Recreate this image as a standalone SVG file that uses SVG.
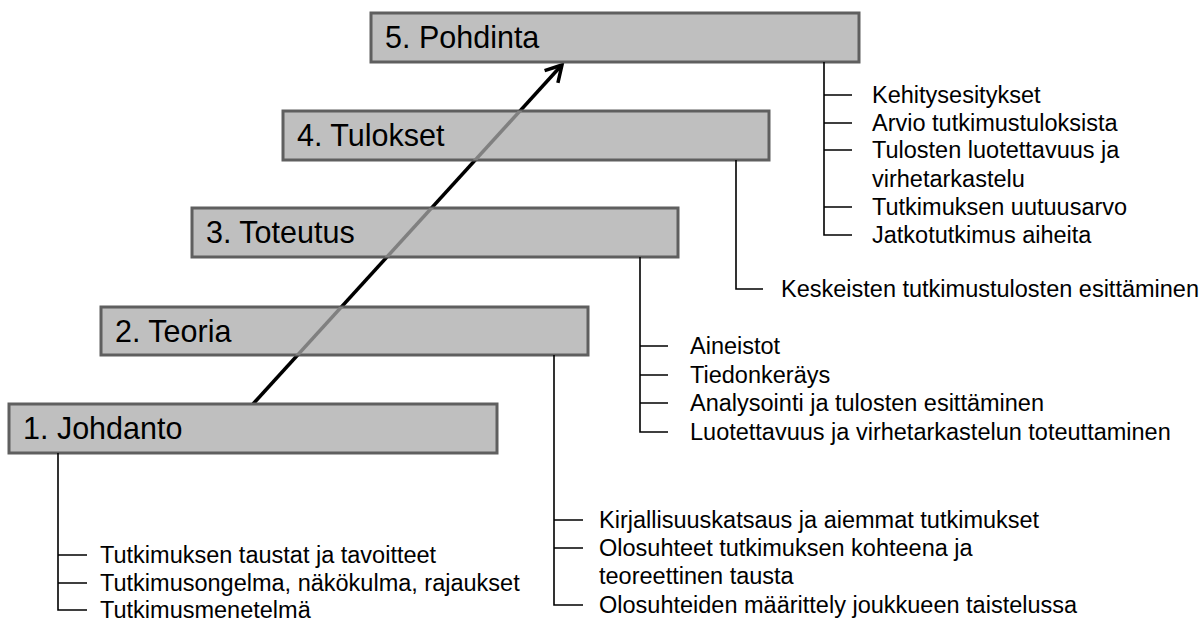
<svg xmlns="http://www.w3.org/2000/svg" width="1201" height="621" viewBox="0 0 1201 621">
<style>
.box{fill:#bfbfbf;stroke:#5f5f5f;stroke-width:3}
.lbl{font-family:"Liberation Sans",Arial,sans-serif;font-size:30.5px;fill:#000}
.t{font-family:"Liberation Sans",Arial,sans-serif;font-size:23.5px;fill:#000}
.tree{fill:none;stroke:#000;stroke-width:1.6}
.arr{fill:none;stroke:#000;stroke-width:3.5}
.arrg{fill:none;stroke:#808080;stroke-width:3.5}
</style>
<defs>
<clipPath id="boxclip">
<rect x="101" y="307" width="487" height="48"/>
<rect x="192" y="208" width="486" height="49"/>
<rect x="283" y="111" width="486" height="49"/>
</clipPath>
</defs>
<g id="connectors">
<path class="arr" d="M253,404 L560,67"/>
<path class="arr" d="M544.6,70.7 L562,65 L557.9,82.9"/>
</g>
<g id="box1"><rect class="box" x="9" y="404" width="488" height="49"/><text class="lbl" x="23" y="439">1. Johdanto</text></g>
<g id="box2"><rect class="box" x="101" y="307" width="487" height="48"/><text class="lbl" x="115" y="342">2. Teoria</text></g>
<g id="box3"><rect class="box" x="192" y="208" width="486" height="49"/><text class="lbl" x="206" y="243">3. Toteutus</text></g>
<g id="box4"><rect class="box" x="283" y="111" width="486" height="49"/><text class="lbl" x="297" y="146">4. Tulokset</text></g>
<g id="box5"><rect class="box" x="371" y="13" width="488" height="49"/><text class="lbl" x="385" y="48">5. Pohdinta</text></g>
<g id="arrow-overlay" clip-path="url(#boxclip)">
<path class="arrg" d="M253,404 L560,67"/>
</g>
<g id="tree1">
<path class="tree" d="M58,453 V610 H87 M58,555 H87 M58,583 H87"/>
<text class="t" x="100" y="563">Tutkimuksen taustat ja tavoitteet</text>
<text class="t" x="100" y="591">Tutkimusongelma, näkökulma, rajaukset</text>
<text class="t" x="100" y="617.5">Tutkimusmenetelmä</text>
</g>
<g id="tree2">
<path class="tree" d="M554,355 V605 H583 M554,520 H583 M554,548 H583"/>
<text class="t" x="599" y="528">Kirjallisuuskatsaus ja aiemmat tutkimukset</text>
<text class="t" x="599" y="556">Olosuhteet tutkimuksen kohteena ja</text>
<text class="t" x="599" y="584">teoreettinen tausta</text>
<text class="t" x="599" y="613">Olosuhteiden määrittely joukkueen taistelussa</text>
</g>
<g id="tree3">
<path class="tree" d="M640,257 V432 H668 M640,346 H668 M640,375 H668 M640,403 H668"/>
<text class="t" x="690" y="354">Aineistot</text>
<text class="t" x="690" y="383">Tiedonkeräys</text>
<text class="t" x="690" y="411">Analysointi ja tulosten esittäminen</text>
<text class="t" x="690" y="440">Luotettavuus ja virhetarkastelun toteuttaminen</text>
</g>
<g id="tree4">
<path class="tree" d="M736,160 V289 H763"/>
<text class="t" x="781" y="297">Keskeisten tutkimustulosten esittäminen</text>
</g>
<g id="tree5">
<path class="tree" d="M824,62 V235 H852 M824,95 H852 M824,123 H852 M824,150 H852 M824,207 H852"/>
<text class="t" x="872" y="103">Kehitysesitykset</text>
<text class="t" x="872" y="131">Arvio tutkimustuloksista</text>
<text class="t" x="872" y="158">Tulosten luotettavuus ja</text>
<text class="t" x="872" y="187">virhetarkastelu</text>
<text class="t" x="872" y="215">Tutkimuksen uutuusarvo</text>
<text class="t" x="872" y="243">Jatkotutkimus aiheita</text>
</g>
</svg>
